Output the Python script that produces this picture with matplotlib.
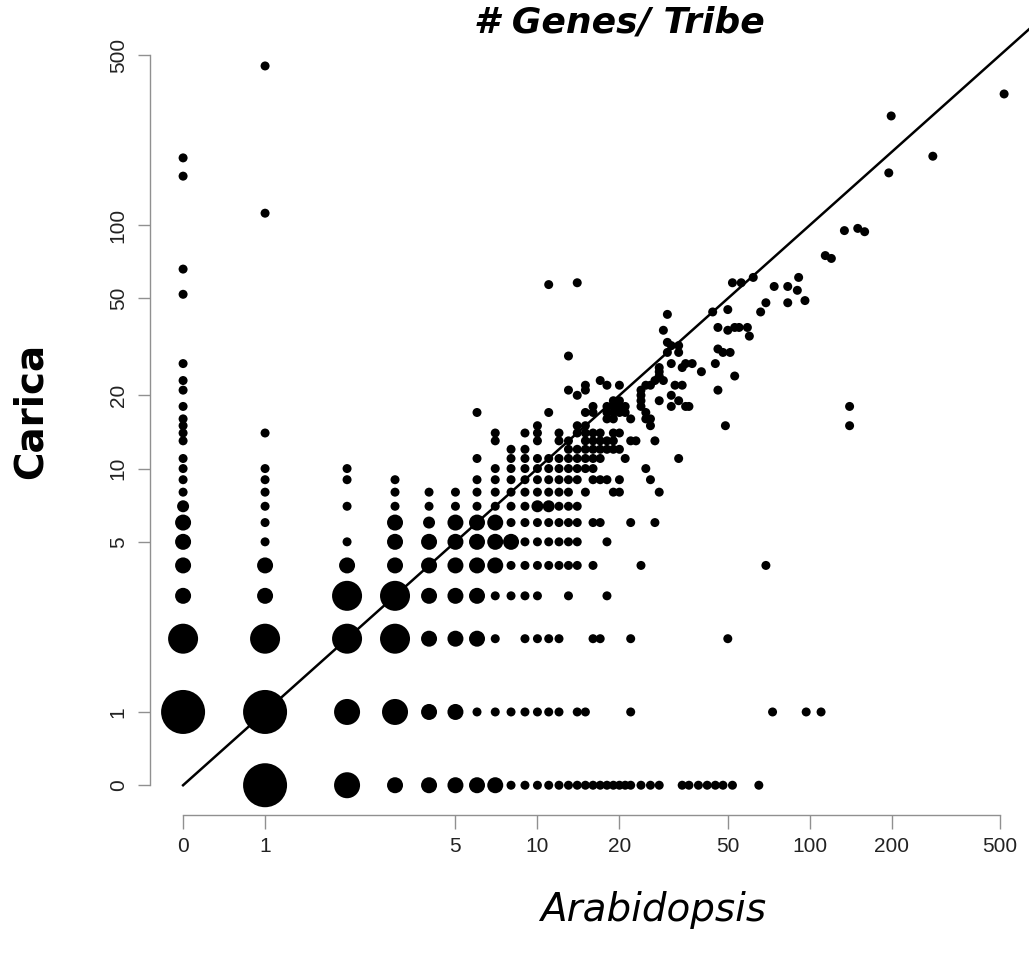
"""
Genes per tribe: Arabidopsis vs Carica, log axes with 0 drawn at 0.5 (R style plot).
"""
import numpy as np
import matplotlib
matplotlib.use("Agg")  # headless
import matplotlib.pyplot as plt  # noqa: E402

W, H = 1029, 959

# Carica gene counts found for each small Arabidopsis count (read column by column)
carica_at_arab0 = [1, 2, 3, 4, 5, 6, 7, 8, 9, 10, 11, 13, 14, 15, 16, 18, 21, 23, 27, 52, 66, 159, 189]
carica_at_arab1 = [0, 1, 2, 3, 4, 5, 6, 7, 8, 9, 10, 14, 112, 451]
carica_at_arab2 = [0, 1, 2, 3, 4, 5, 7, 9, 10]
carica_at_arab3 = [0, 1, 2, 3, 4, 5, 6, 7, 8, 9]
carica_at_arab4 = [0, 1, 2, 3, 4, 5, 6, 7, 8]
carica_at_arab5 = [0, 1, 2, 3, 4, 5, 6, 7, 8]
carica_at_arab6 = [0, 1, 2, 3, 4, 5, 6, 7, 8, 9, 11, 17]
carica_at_arab7 = [0, 1, 2, 3, 4, 5, 6, 7, 8, 9, 10, 13, 14]
carica_at_arab8 = [0, 1, 3, 4, 5, 6, 7, 8, 9, 10, 11, 12]
carica_at_arab9 = [0, 1, 2, 3, 4, 5, 6, 7, 8, 9, 10, 11, 12, 14]
carica_at_arab10 = [0, 1, 2, 3, 4, 5, 6, 7, 8, 9, 10, 11, 13, 14, 15]
carica_at_arab11 = [0, 1, 2, 4, 5, 6, 7, 8, 9, 10, 11, 17, 57]
carica_at_arab12 = [0, 1, 2, 4, 5, 6, 7, 8, 9, 10, 11, 13, 14]
carica_at_arab13 = [0, 3, 4, 5, 6, 7, 8, 9, 10, 11, 12, 13, 21, 29]
carica_at_arab14 = [0, 1, 4, 5, 6, 7, 9, 10, 11, 12, 14, 15, 20, 58]

# Arabidopsis counts (>= 15) along the lowest Carica rows
arab_at_carica0 = [15, 16, 17, 18, 19, 20, 21, 22, 24, 26, 28, 34, 36, 39, 42, 45, 48, 52, 65]
arab_at_carica1 = [15, 22, 73, 97, 110]
arab_at_carica2 = [16, 17, 22, 50]
arab_at_carica3 = [18]

# remaining tribes (arabidopsis, carica)
other_tribes = [
    (16, 4), (24, 4), (69, 4), (18, 5), (16, 6), (17, 6), (22, 6), (27, 6),
    (15, 8), (19, 8), (20, 8), (28, 8), (16, 9), (17, 9), (18, 9), (20, 9), (26, 9),
    (15, 10), (16, 10), (25, 10), (15, 11), (16, 11), (17, 11), (21, 11), (33, 11),
    (15, 12), (16, 12), (17, 12), (18, 12), (19, 12), (20, 12),
    (15, 13), (16, 13), (17, 13), (18, 13), (19, 13), (22, 13), (23, 13), (27, 13),
    (15, 14), (16, 14), (17, 14), (19, 14), (20, 14), (15, 15), (26, 15), (49, 15), (140, 15),
    (18, 16), (19, 16), (22, 16), (25, 16), (26, 16),
    (15, 17), (16, 17), (18, 17), (19, 17), (20, 17), (21, 17), (25, 17),
    (16, 18), (18, 18), (19, 18), (20, 18), (21, 18), (24, 18), (31, 18), (35, 18), (36, 18), (140, 18),
    (19, 19), (20, 19), (24, 19), (28, 19), (33, 19), (24, 20), (31, 20),
    (15, 21), (24, 21), (46, 21), (15, 22), (18, 22), (20, 22), (25, 22), (26, 22), (32, 22), (34, 22),
    (17, 23), (27, 23), (29, 23), (28, 24), (53, 24), (28, 25), (40, 25), (28, 26), (34, 26),
    (31, 27), (35, 27), (37, 27), (45, 27), (30, 30), (33, 30), (48, 30), (51, 30), (46, 31),
    (31, 32), (33, 32), (30, 33), (60, 35), (29, 37), (50, 37), (46, 38), (53, 38), (55, 38), (59, 38),
    (30, 43), (44, 44), (66, 44), (50, 45), (69, 48), (83, 48), (96, 49), (90, 54),
    (74, 56), (83, 56), (52, 58), (56, 58), (62, 61), (91, 61), (120, 73), (114, 75),
    (159, 94), (134, 95), (150, 97), (195, 164), (283, 192), (199, 281), (517, 346),
]

# marker level of pairs shared by many tribes (1 = single tribe)
shared_pairs = {
    6: [(0, 1), (1, 1), (1, 0)],
    5: [(0, 2), (1, 2), (2, 2), (3, 2), (2, 3), (3, 3)],
    4: [(2, 1), (3, 1), (2, 0)],
    3: [(0, 3), (0, 4), (0, 5), (0, 6), (1, 3), (1, 4), (2, 4), (3, 4), (3, 5), (3, 6), (3, 0),
        (4, 0), (4, 1), (4, 2), (4, 3), (4, 4), (4, 5), (5, 0), (5, 1), (5, 2), (5, 3), (5, 4),
        (5, 5), (5, 6), (6, 0), (6, 2), (6, 3), (6, 4), (6, 5), (6, 6), (7, 0), (7, 4), (7, 5),
        (7, 6), (8, 5)],
    2: [(4, 6), (10, 7), (11, 7), (0, 7)],
}

x_ticks = [0, 1, 5, 10, 20, 50, 100, 200, 500]
y_ticks = [0, 1, 5, 10, 20, 50, 100, 500]

# marker diameter (px) per level
LEVEL_PX = {1: 9, 2: 12, 3: 16, 4: 26, 5: 30, 6: 44}


def _collect():
    cols = [carica_at_arab0, carica_at_arab1, carica_at_arab2, carica_at_arab3, carica_at_arab4,
            carica_at_arab5, carica_at_arab6, carica_at_arab7, carica_at_arab8, carica_at_arab9,
            carica_at_arab10, carica_at_arab11, carica_at_arab12, carica_at_arab13, carica_at_arab14]
    pts = [(a, c) for a, ys in enumerate(cols) for c in ys]
    rows = [arab_at_carica0, arab_at_carica1, arab_at_carica2, arab_at_carica3]
    pts += [(a, c) for c, xs in enumerate(rows) for a in xs]
    pts += other_tribes
    level = {p: 1 for p in pts}
    for lv, plist in shared_pairs.items():
        for p in plist:
            level[p] = lv
    return pts, level


def _pos(v):
    # zero can't sit on a log axis: R plot puts it at 0.5
    return np.maximum(np.asarray(v, dtype=float), 0.5)


pts, level = _collect()
arab = _pos([p[0] for p in pts])
car = _pos([p[1] for p in pts])
px = np.array([LEVEL_PX[level[p]] for p in pts])
sizes = (px * 72.0 / 100) ** 2  # px -> pt^2 at dpi 100

fig = plt.figure(figsize=(W / 100, H / 100), dpi=100)
left, right, top, bottom = 150, 1033, 25.7, 814.8
ax = fig.add_axes([left / W, 1 - bottom / H, (right - left) / W, (bottom - top) / H])
ax.set_xscale("log")
ax.set_yscale("log")
ax.set_xlim(0.378, 660)
ax.set_ylim(0.378, 660)

ax.plot([0.5, 2000], [0.5, 2000], color="black", lw=1.8, zorder=3)
ax.scatter(arab, car, s=sizes, c="black", edgecolors="none", zorder=4)

for s in ("top", "right"):
    ax.spines[s].set_visible(False)
ax.spines["left"].set_bounds(0.5, 500)
ax.spines["bottom"].set_bounds(0.5, 500)
for s in ("left", "bottom"):
    ax.spines[s].set_color("#909090")
    ax.spines[s].set_linewidth(1.0)

ax.minorticks_off()
ax.set_xticks(_pos(x_ticks))
ax.set_xticklabels([str(t) for t in x_ticks])
ax.set_yticks(_pos(y_ticks))
ax.set_yticklabels([str(t) for t in y_ticks], rotation=90, va="center")
ax.tick_params(axis="x", length=10, width=1.0, color="#909090", labelsize=15,
               labelcolor="#222222", pad=6)
ax.tick_params(axis="y", length=9, width=1.0, color="#909090", labelsize=15,
               labelcolor="#222222", pad=7)
for lab in ax.get_xticklabels() + ax.get_yticklabels():
    lab.set_family(["Liberation Sans", "DejaVu Sans"])

fig.text(619 / W, 1 - 23 / H, "# Genes/ Tribe", ha="center", va="center",
         fontsize=26, fontweight="bold", fontstyle="italic", family="DejaVu Sans")
fig.text(653 / W, 1 - 910 / H, "Arabidopsis", ha="center", va="center",
         fontsize=28, fontstyle="italic", family="DejaVu Sans")
fig.text(31 / W, 1 - 411 / H, "Carica", ha="center", va="center", rotation=90,
         fontsize=28, fontweight="bold", family="DejaVu Sans")

fig.savefig("out.png", dpi=100)
plt.close(fig)
